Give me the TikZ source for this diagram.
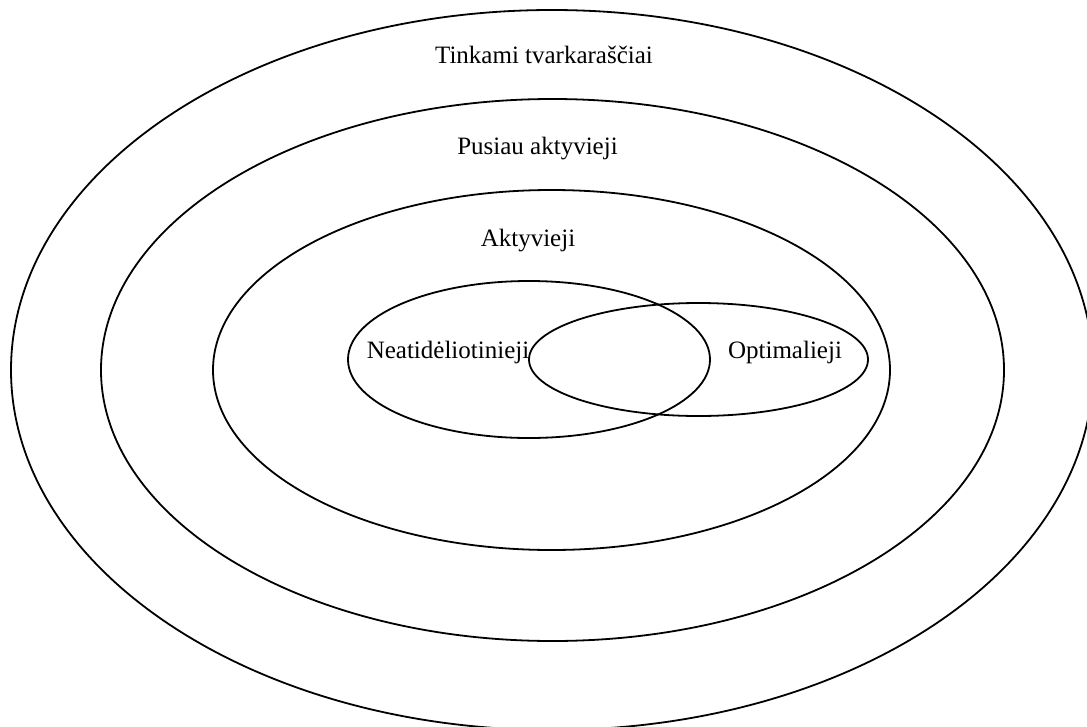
\documentclass[tikz,border=0pt]{standalone}
\usepackage{fontspec}
\setmainfont{Liberation Serif}
\usepackage{tikz}
\usetikzlibrary{shapes.geometric}
\tikzstyle{set}=[ellipse,draw=black,line width=1.8pt,inner sep=0pt]
\tikzstyle{setname}=[anchor=base,inner sep=0pt,font=\fontsize{25}{30}\selectfont]

\begin{document}
\begin{tikzpicture}[x=1pt,y=-1pt]

  \useasboundingbox (0,0) rectangle (1087,726);
  \clip (0,0) rectangle (1087,726);

   \foreach \x/\y/\w/\h/\name in {552/370/1082/720/tinkami, 552.5/370/903/542/pusiau, 551.5/370/677/360/aktyv, 529/359.5/362/157/neatid, 698.5/359.5/339/113/optim}
          \node[set, minimum width=\w pt, minimum height=\h pt] (\name) at (\x,\y) {};

   \foreach \x/\y/\name/\label in {544/63/ltinkami/Tinkami tvarkaraščiai, 537.5/154/lpusiau/Pusiau aktyvieji, 528/246/laktyv/Aktyvieji, 448/358/lneatid/Neatidėliotinieji, 785/358/loptim/Optimalieji}
          \node[setname] (\name) at (\x,\y) {\label};

\end{tikzpicture}
\end{document}
